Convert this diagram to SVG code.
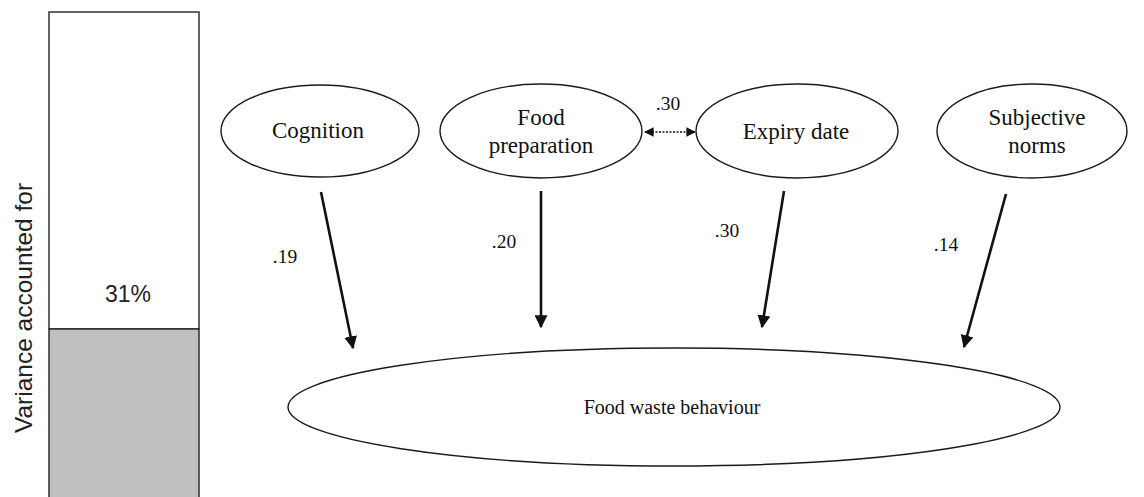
<svg xmlns="http://www.w3.org/2000/svg" width="1144" height="497" viewBox="0 0 1144 497">
<style>
.node{fill:#fff;stroke:#1a1a1a;stroke-width:1.4}
.lbl{font-family:"Liberation Serif","Times New Roman",serif;font-size:23px;fill:#111;text-anchor:middle}
.lbl-sm{font-family:"Liberation Serif","Times New Roman",serif;font-size:20px;fill:#111;text-anchor:middle}
.coef{font-family:"Liberation Serif","Times New Roman",serif;font-size:19.5px;fill:#111;text-anchor:middle}
.sans{font-family:"Liberation Sans",Arial,sans-serif;font-size:23px;fill:#222;text-anchor:middle}
.arr{stroke:#111;stroke-width:2.6;fill:none;marker-end:url(#ah)}
.dot{stroke:#111;stroke-width:1.6;stroke-dasharray:2 1.5;fill:none;marker-end:url(#ah2);marker-start:url(#ah2s)}
</style>
<defs>
<marker id="ah" viewBox="0 0 10 10" refX="9" refY="5" markerWidth="5" markerHeight="5" orient="auto" markerUnits="strokeWidth">
<path d="M0,0 L10,5 L0,10 z" fill="#111"/>
</marker>
<marker id="ah2" viewBox="0 0 10 10" refX="9" refY="5" markerWidth="6" markerHeight="6" orient="auto" markerUnits="strokeWidth">
<path d="M0,0 L10,5 L0,10 z" fill="#111"/>
</marker>
<marker id="ah2s" viewBox="0 0 10 10" refX="1" refY="5" markerWidth="6" markerHeight="6" orient="auto" markerUnits="strokeWidth">
<path d="M10,0 L0,5 L10,10 z" fill="#111"/>
</marker>
</defs>
<rect width="1144" height="497" fill="#fff"/>
<g id="variance-bar">
<rect x="49" y="12" width="150" height="317" fill="#fff" stroke="#222" stroke-width="1.4"/>
<rect x="49" y="329" width="150" height="170" fill="#bfbfbf" stroke="#222" stroke-width="1.4"/>
<text class="sans" x="128" y="302">31%</text>
<text class="sans" style="font-size:24.5px" transform="translate(32,308) rotate(-90)" x="0" y="0">Variance accounted for</text>
</g>
<g id="cognition">
<ellipse class="node" cx="320" cy="131" rx="99" ry="46"/>
<text class="lbl" x="318" y="138">Cognition</text>
</g>
<g id="food-preparation">
<ellipse class="node" cx="541" cy="131" rx="101" ry="47"/>
<text class="lbl" x="541" y="125">Food</text>
<text class="lbl" x="541" y="153">preparation</text>
</g>
<g id="expiry-date">
<ellipse class="node" cx="797" cy="131" rx="101" ry="47"/>
<text class="lbl" x="796" y="139">Expiry date</text>
</g>
<g id="subjective-norms">
<ellipse class="node" cx="1032" cy="131" rx="95" ry="47"/>
<text class="lbl" x="1037" y="125">Subjective</text>
<text class="lbl" x="1037" y="153">norms</text>
</g>
<g id="food-waste-behaviour">
<ellipse class="node" cx="674" cy="407" rx="386" ry="59"/>
<text class="lbl-sm" x="672" y="414">Food waste behaviour</text>
</g>
<g id="connectors">
<line class="arr" x1="321" y1="192" x2="353" y2="348"/>
<line class="arr" x1="541" y1="191" x2="541" y2="327"/>
<line class="arr" x1="784" y1="191" x2="762" y2="327"/>
<line class="arr" x1="1006" y1="194" x2="964" y2="347"/>
<line class="dot" x1="645" y1="132" x2="695" y2="132"/>
<text class="coef" x="285" y="263">.19</text>
<text class="coef" x="504" y="248">.20</text>
<text class="coef" x="727" y="237">.30</text>
<text class="coef" x="946" y="251">.14</text>
<text class="coef" x="668" y="110">.30</text>
</g>
</svg>
